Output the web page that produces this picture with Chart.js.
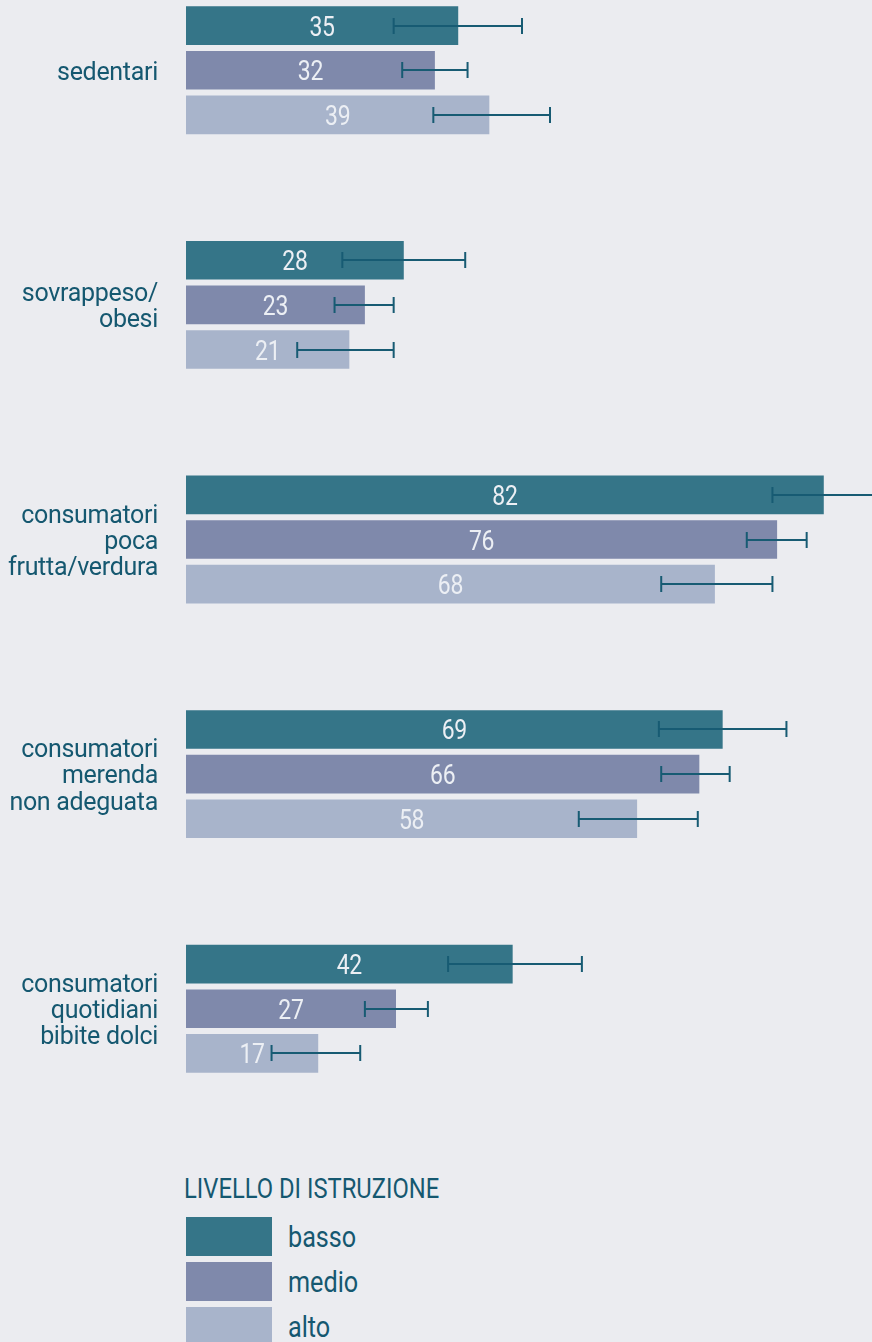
<!DOCTYPE html>
<html lang="it">
<head>
<meta charset="utf-8">
<title>Stili di vita per livello di istruzione</title>
<script src="https://cdn.jsdelivr.net/npm/chart.js@4/dist/chart.umd.min.js"></script>
<style>
  html, body { margin: 0; padding: 0; background: #ebecf0; }
  body { width: 872px; height: 1342px; position: relative; overflow: hidden;
         font-family: "Roboto", "DejaVu Sans Condensed", sans-serif; }
  #wrap { position: absolute; left: 0; top: -47px; width: 872px; height: 1173px; }
  #legend { position: absolute; left: 184px; top: 1175px; color: #155870; }
  #legend .title { font-size: 27px; line-height: 28px; white-space: nowrap;
                   transform: scaleX(0.88); transform-origin: 0 0; margin-bottom: 14px; }
  #legend .row { display: flex; align-items: center; height: 39px; margin-bottom: 6px; }
  #legend .box { width: 86px; height: 39px; margin-left: 2px; flex: none; }
  #legend .lab { margin-left: 16px; font-size: 30px; line-height: 39px;
                 transform: scaleX(0.84); transform-origin: 0 50%; }
</style>
</head>
<body>
<div id="wrap"><canvas id="c"></canvas></div>
<div id="legend"></div>
<script>
// Categories (multi-line axis labels)
const categories = [
  ['sedentari'],
  ['sovrappeso/', 'obesi'],
  ['consumatori', 'poca', 'frutta/verdura'],
  ['consumatori', 'merenda', 'non adeguata'],
  ['consumatori', 'quotidiani', 'bibite dolci']
];

// Series names and values (%)
const seriesNames = ['basso', 'medio', 'alto'];
const basso = [35, 28, 82, 69, 42];
const medio = [32, 23, 76, 66, 27];
const alto  = [39, 21, 68, 58, 17];

// Confidence intervals (lower / upper bound)
const bassoLow  = [26.7, 20.1, 75.4, 60.8, 33.7];
const bassoHigh = [43.2, 35.9, 88.6, 77.2, 50.9];
const medioLow  = [27.8, 19.1, 72.1, 61.1, 23.0];
const medioHigh = [36.2, 26.7, 79.8, 69.9, 31.1];
const altoLow   = [31.8, 14.3, 61.1, 50.5, 11.0];
const altoHigh  = [46.8, 26.7, 75.4, 65.8, 22.4];

const legendTitle = 'LIVELLO DI ISTRUZIONE';

const colors = ['#357588', '#7f89ab', '#a8b4cb'];
const FONT = '"Roboto", "DejaVu Sans Condensed", sans-serif';
const TEXT = '#155870';
const WHISKER = '#175b73';

const values = [basso, medio, alto];
const lows = [bassoLow, medioLow, altoLow];
const highs = [bassoHigh, medioHigh, altoHigh];

// Value labels centred in each bar, in a narrowed face
const valueLabels = {
  id: 'valueLabels',
  afterDatasetsDraw(chart) {
    const ctx = chart.ctx;
    const squeeze = 0.82;
    ctx.save();
    ctx.font = '28px ' + FONT;
    ctx.fillStyle = '#eceff4';
    ctx.textAlign = 'center';
    ctx.textBaseline = 'alphabetic';
    chart.data.datasets.forEach((ds, di) => {
      chart.getDatasetMeta(di).data.forEach((bar, i) => {
        const cx = (bar.x + bar.base) / 2;
        ctx.save();
        ctx.translate(cx, bar.y + 10);
        ctx.scale(squeeze, 1);
        ctx.fillText(String(ds.data[i]), 0, 0);
        ctx.restore();
      });
    });
    ctx.restore();
  }
};

// Error bars (confidence intervals)
const errorBars = {
  id: 'errorBars',
  afterDatasetsDraw(chart) {
    const ctx = chart.ctx;
    const xs = chart.scales.x;
    ctx.save();
    ctx.strokeStyle = WHISKER;
    ctx.lineWidth = 2;
    chart.data.datasets.forEach((ds, di) => {
      chart.getDatasetMeta(di).data.forEach((bar, i) => {
        const x1 = xs.getPixelForValue(lows[di][i]);
        const x2 = xs.getPixelForValue(highs[di][i]);
        const y = Math.round(bar.y);
        ctx.beginPath();
        ctx.moveTo(x1, y); ctx.lineTo(x2, y);
        ctx.moveTo(x1, y - 8); ctx.lineTo(x1, y + 8);
        ctx.moveTo(x2, y - 8); ctx.lineTo(x2, y + 8);
        ctx.stroke();
      });
    });
    ctx.restore();
  }
};

// Slightly tighter tracking for the axis labels
const tracking = {
  id: 'tracking',
  beforeDraw(chart) { chart.ctx.letterSpacing = '-0.3px'; },
  afterDraw(chart) { chart.ctx.letterSpacing = '0px'; }
};

new Chart(document.getElementById('c'), {
  type: 'bar',
  data: {
    labels: categories,
    datasets: seriesNames.map((name, k) => ({
      label: name,
      data: values[k],
      backgroundColor: colors[k],
      borderWidth: 0,
      categoryPercentage: 0.5705,
      barPercentage: 0.866
    }))
  },
  options: {
    indexAxis: 'y',
    responsive: true,
    maintainAspectRatio: false,
    animation: false,
    layout: { padding: 0 },
    plugins: {
      legend: { display: false },
      tooltip: { enabled: false }
    },
    scales: {
      x: {
        display: false,
        min: 0,
        max: 88.2
      },
      y: {
        grid: { display: false, drawTicks: false },
        border: { display: false },
        afterFit(scale) {
          scale.width = 186;
          scale.paddingTop = 0;
          scale.paddingBottom = 0;
        },
        ticks: {
          padding: 28,
          labelOffset: 3,
          color: TEXT,
          font: { family: FONT, size: 25, lineHeight: 1.05 }
        }
      }
    }
  },
  plugins: [tracking, errorBars, valueLabels]
});

// Legend built from the series names and colours
const lg = document.getElementById('legend');
const t = document.createElement('div');
t.className = 'title';
t.textContent = legendTitle;
lg.appendChild(t);
seriesNames.forEach((name, k) => {
  const row = document.createElement('div');
  row.className = 'row';
  const b = document.createElement('div');
  b.className = 'box';
  b.style.background = colors[k];
  const l = document.createElement('div');
  l.className = 'lab';
  l.textContent = name;
  row.appendChild(b);
  row.appendChild(l);
  lg.appendChild(row);
});
</script>
</body>
</html>
